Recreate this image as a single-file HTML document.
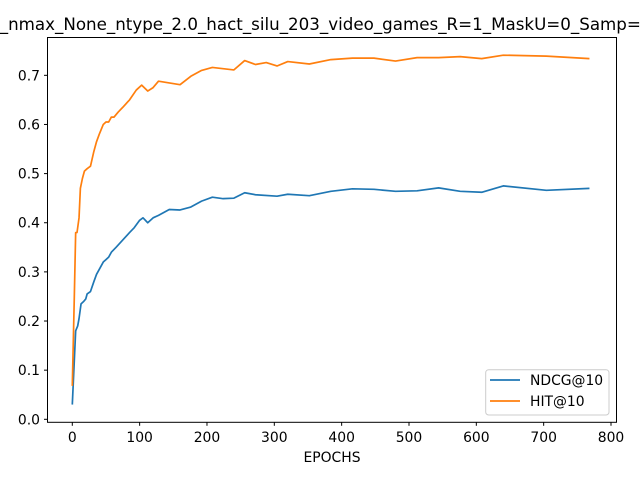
<!DOCTYPE html>
<html><head><meta charset="utf-8"><style>
html,body{margin:0;padding:0;background:#fff;}
svg{display:block;font-family:"DejaVu Sans","Liberation Sans",sans-serif;}
</style></head><body>
<svg id="chart" width="640" height="480" viewBox="0 0 640 480">
<rect x="0" y="0" width="640" height="480" fill="#fff"/>
<text x="311" y="30" font-size="16.7" text-anchor="middle">dim_64_nmax_None_ntype_2.0_hact_silu_203_video_games_R=1_MaskU=0_Samp=1000</text>
<g id="plot"></g>
<rect x="47.5" y="37.5" width="569" height="384.8" fill="none" stroke="#000" stroke-width="1"/>
<text x="332" y="462" font-size="13.9" text-anchor="middle">EPOCHS</text>
<g>
<rect x="485.7" y="369.7" width="123.3" height="45.3" rx="3" fill="#fff" fill-opacity="0.8" stroke="#ccc"/>
<line x1="490" y1="380" x2="520" y2="380" stroke="#1f77b4" stroke-width="1.7"/>
<text x="530" y="385" font-size="13.9">NDCG@10</text>
<line x1="490" y1="401" x2="520" y2="401" stroke="#ff7f0e" stroke-width="1.7"/>
<text x="530" y="406" font-size="13.9">HIT@10</text>
</g>
</svg>
<script>
const hitX=[0,3,5,7,10,12,15,18,22,27,32,36,40,46,50,54,58,62,68,75,85,95,103,112,120,128,160,176,192,208,240,256,272,288,304,320,352,384,416,448,480,512,544,576,608,640,704,768];
const hitY=[0.068,0.25,0.38,0.38,0.41,0.47,0.49,0.505,0.51,0.515,0.545,0.565,0.58,0.60,0.605,0.605,0.615,0.615,0.625,0.635,0.65,0.67,0.68,0.668,0.675,0.688,0.681,0.698,0.71,0.716,0.711,0.73,0.722,0.726,0.719,0.728,0.723,0.732,0.735,0.735,0.729,0.736,0.736,0.738,0.734,0.741,0.739,0.734];
const ndcgX=[0,3,5,8,10,13,17,20,22,27,32,36,40,46,50,54,58,65,75,85,92,100,105,112,120,128,144,160,176,192,208,224,240,256,272,304,320,352,384,416,448,480,512,544,576,608,640,704,768];
const ndcgY=[0.03,0.12,0.18,0.19,0.205,0.235,0.24,0.245,0.255,0.26,0.28,0.295,0.305,0.32,0.325,0.33,0.34,0.35,0.365,0.38,0.39,0.405,0.41,0.40,0.41,0.415,0.427,0.426,0.432,0.444,0.452,0.449,0.450,0.461,0.457,0.454,0.458,0.455,0.464,0.469,0.468,0.464,0.465,0.471,0.464,0.462,0.475,0.466,0.470];
const xTicks=[0,100,200,300,400,500,600,700,800];
const yTicks=[0.0,0.1,0.2,0.3,0.4,0.5,0.6,0.7];
const NS="http://www.w3.org/2000/svg";
const sx=v=>72.3+v*(611-72.3)/800;
const sy=v=>419.3-v*491.4;
const g=document.getElementById('plot');
function mk(t,a){const e=document.createElementNS(NS,t);for(const k in a)e.setAttribute(k,a[k]);return e;}
xTicks.forEach(t=>{
  const l=mk('line',{x1:sx(t),x2:sx(t),y1:422.3,y2:425.8,stroke:'#000'});
  
  
  g.appendChild(l);
  const tx=mk('text',{x:sx(t),y:442,'font-size':13.9,'text-anchor':'middle'});
  
  
  tx.textContent=t;g.appendChild(tx);
});
yTicks.forEach(t=>{
  const l=mk('line',{x1:44,x2:47.5,y1:sy(t),y2:sy(t),stroke:'#000'});
  
  
  g.appendChild(l);
  const tx=mk('text',{x:40,y:sy(t)+5,'font-size':13.9,'text-anchor':'end'});
  
  
  tx.textContent=t.toFixed(1);g.appendChild(tx);
});
function line(xs,ys,c,name){
  const p=mk('polyline',{points:xs.map((x,i)=>sx(x)+','+sy(ys[i])).join(' '),fill:'none',stroke:c,'stroke-width':1.7,'stroke-linejoin':'round'});
  
  
  g.appendChild(p);
}
line(ndcgX,ndcgY,'#1f77b4','ndcg-line');
line(hitX,hitY,'#ff7f0e','hit-line');
</script>
</body></html>
